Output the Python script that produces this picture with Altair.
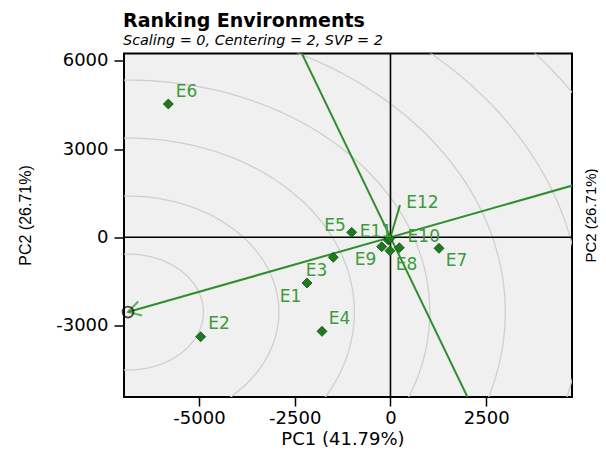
import altair as alt
import numpy as np
import pandas as pd

# ---- data ----
env = ["E1", "E2", "E3", "E4", "E5", "E6", "E7", "E8", "E9", "E10", "E11", "E12"]
pc1 = [-2179, -4955, -1493, -1788, -1013, -5800, 1267, -13, -229, 231, -57, -20]
pc2 = [-1553, -3378, -680, -3195, 169, 4529, -374, -456, -320, -354, -92, -40]
label_x = [-2610, -4477, -1931, -1331, -1448, -5325, 1724, 419, -654, 869, -378, 836]
label_y = [-2029, -2947, -1146, -2777, 371, 4937, -806, -942, -755, 27, 168, 1165]

avg_env = [-6853, -2539]          # average environment (circle centre / arrow tip)
e12_vec = [248, 1097]             # short vector drawn to E12 label
ring_radii = [1970, 3940, 5910, 7880, 9850, 11820, 13790]

x_ticks = [-5000, -2500, 0, 2500]
y_ticks = [-3000, 0, 3000, 6000]
x_domain = [-6957, 4739]
y_domain = [-5426, 6245]

title_text = "Ranking Environments"
subtitle_text = "Scaling = 0, Centering = 2, SVP = 2"
x_title = "PC1 (41.79%)"
y_title = "PC2 (26.71%)"

GREEN = "#2f8f2f"
LABEL_GREEN = "#3d9a3d"
PT_FILL = "#1f7a1f"
W, H = 448, 343.5

LABEL_EXPR = "datum.value < 0 ? '-' + abs(datum.value) : '' + datum.value"

xs = alt.Scale(domain=x_domain, nice=False, zero=False)
ys = alt.Scale(domain=y_domain, nice=False, zero=False)
AX = alt.Axis(values=x_ticks, title=None, grid=False, domain=False, tickColor="black",
              tickWidth=1.5, tickSize=9, labelFontSize=18, labelFont="DejaVu Sans",
              labelColor="black", labelPadding=3, orient="bottom", labelExpr=LABEL_EXPR)
AY = alt.Axis(values=y_ticks, title=None, grid=False, domain=False, tickColor="black",
              tickWidth=1.5, tickSize=10, labelFontSize=18, labelFont="DejaVu Sans",
              labelColor="black", labelPadding=6, orient="left", labelExpr=LABEL_EXPR)

pts = pd.DataFrame({"env": env, "x": pc1, "y": pc2, "lx": label_x, "ly": label_y})

# concentric rings around the average environment
theta = np.linspace(0, 2 * np.pi, 361)
rings = pd.concat([
    pd.DataFrame({"ring": i, "ord": np.arange(len(theta)),
                  "x": avg_env[0] + r * np.cos(theta),
                  "y": avg_env[1] + r * np.sin(theta)})
    for i, r in enumerate(ring_radii)
])

slope = avg_env[1] / avg_env[0]
lines = pd.DataFrame({
    "x": [avg_env[0], -7000 / (-1 / slope), 0],
    "y": [avg_env[1], -7000, 0],
    "x2": [6000, 7000 / (-1 / slope), e12_vec[0]],
    "y2": [6000 * slope, 7000, e12_vec[1]],
})


def X(f="x"):
    return alt.X(f"{f}:Q", scale=xs, axis=AX)


def Y(f="y"):
    return alt.Y(f"{f}:Q", scale=ys, axis=AY)


ring_layer = alt.Chart(rings).mark_line(clip=True, stroke="#cfcfcf", strokeWidth=1.3).encode(
    x=X(), y=Y(), detail="ring:N", order="ord:Q")

zero_v = alt.Chart(pd.DataFrame({"x": [0], "y": [y_domain[0]], "y2": [y_domain[1]]})).mark_rule(
    color="black", strokeWidth=1.6).encode(x=X(), y=Y(), y2="y2:Q")
zero_h = alt.Chart(pd.DataFrame({"y": [0], "x": [x_domain[0]], "x2": [x_domain[1]]})).mark_rule(
    color="black", strokeWidth=1.6).encode(y=Y(), x=X(), x2="x2:Q")

line_layer = alt.Chart(lines).mark_rule(clip=True, color=GREEN, strokeWidth=2).encode(
    x=X(), y=Y(), x2="x2:Q", y2="y2:Q")

avg_df = pd.DataFrame({"x": [avg_env[0]], "y": [avg_env[1]]})
arrow = alt.Chart(avg_df).mark_point(
    shape="M 2 -1.15 L 0 0 L 2 1.15", filled=False, stroke=GREEN, strokeWidth=2,
    size=160, angle=344).encode(x=X(), y=Y())
avg_circle = alt.Chart(avg_df).mark_point(
    shape="circle", filled=False, stroke="black", strokeWidth=1.8, size=120).encode(x=X(), y=Y())

points = alt.Chart(pts).mark_point(shape="diamond", filled=True, fill=PT_FILL, stroke="#0f4f0f",
                                   strokeWidth=0.8, size=100, opacity=1).encode(x=X(), y=Y())
labels = alt.Chart(pts).mark_text(font="DejaVu Sans", fontSize=17, color=LABEL_GREEN,
                                  align="center", baseline="middle").encode(
    x=X("lx"), y=Y("ly"), text="env:N")


def free_text(txt, **kw):
    enc = {k: alt.value(v) for k, v in kw.pop("pos").items()}
    return alt.Chart(pd.DataFrame({"t": [txt]})).mark_text(**kw).encode(text="t:N", **enc)


title_m = free_text(title_text, pos={"x": -1, "y": -33}, font="DejaVu Sans", fontSize=19,
                    fontWeight="bold", color="black", align="left", baseline="middle")
subtitle_m = free_text(subtitle_text, pos={"x": -1, "y": -12.5}, font="DejaVu Sans",
                       fontSize=14.4, fontStyle="italic", color="black", align="left",
                       baseline="middle")
xtitle = free_text(x_title, pos={"x": W / 2 - 5, "y": 386}, font="DejaVu Sans", fontSize=18,
                   color="black", align="center", baseline="middle")
ytitle_l = free_text(y_title, pos={"x": -98, "y": 162}, font="Liberation Sans", fontSize=16,
                     color="black", angle=270, align="center", baseline="middle")
ytitle_r = free_text(y_title, pos={"x": 467, "y": 162}, font="Liberation Sans", fontSize=15,
                     color="black", angle=270, align="center", baseline="middle")

chart = alt.layer(
    ring_layer, zero_v, zero_h, line_layer, arrow, avg_circle, points, labels,
    title_m, subtitle_m, xtitle, ytitle_l, ytitle_r,
).properties(
    width=W, height=H,
    autosize=alt.AutoSizeParams(type="none"),
    padding={"left": 116, "top": 45.5, "right": 26, "bottom": 54},
).configure_view(
    fill="#f0f0f0", stroke="black", strokeWidth=2
)

chart.save("out.html", embed_options={"renderer": "svg", "actions": False})
